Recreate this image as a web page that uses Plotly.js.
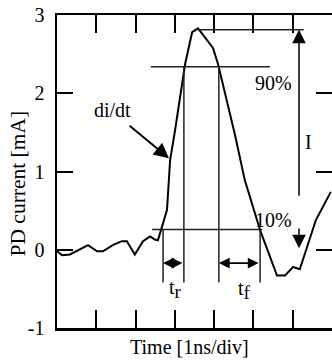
<!DOCTYPE html>
<html>
<head>
<meta charset="utf-8">
<script src="https://cdn.plot.ly/plotly-3.0.1.min.js"></script>
<style>html,body{margin:0;padding:0;background:#fff;}#chart{width:332px;height:361px;}</style>
</head>
<body>
<div id="chart"></div>
<script>
// Time in divisions (1 ns/div), PD current in mA
const timeDiv = [0, 0.13, 0.33, 0.79, 1.02, 1.17, 1.42, 1.65, 1.78, 1.98, 2.19, 2.37, 2.49, 2.57, 2.70, 2.80, 2.88, 3.00, 3.26, 3.44, 3.59, 3.97, 4.10, 4.53, 4.78, 5.17, 5.60, 5.80, 6.01, 6.18, 6.59, 6.97];
const currentMA = [-0.02, -0.07, -0.06, 0.06, -0.02, -0.02, 0.06, 0.11, 0.11, -0.06, 0.11, 0.17, 0.13, 0.12, 0.34, 0.51, 1.15, 1.51, 2.37, 2.78, 2.83, 2.58, 2.37, 1.47, 0.89, 0.25, -0.33, -0.33, -0.22, -0.25, 0.38, 0.74];

const yTickVals = [-1, 0, 1, 2, 3];
const yTickText = ["-1", "0", "1", "2", "3"];

// Levels and markers
const levelPeak = 2.81, level90 = 2.34, level10 = 0.26;
const line90 = [2.39, 5.42], line10 = [2.42, 5.22], linePeak = [3.59, 6.28];
const trEdges = [2.70, 3.23], tfEdges = [4.12, 5.17];
const markBottom = -0.42, dblArrowY = -0.17;
const iArrowX = 6.16, iUpTail = 0.67, iDownTail = 0.29, iDownTip = 0.02;
const didtTip = [2.85, 1.17], didtTail = [1.81, 1.60];

const FONT = "Liberation Serif, Times New Roman, serif";
const lineCol = "#222";

const shapes = [];
function seg(x0, y0, x1, y1) {
  shapes.push({type: "line", xref: "x", yref: "y", x0: x0, y0: y0, x1: x1, y1: y1,
    line: {color: lineCol, width: 1.5}});
}
seg(line90[0], level90, line90[1], level90);
seg(line10[0], level10, line10[1], level10);
seg(linePeak[0], levelPeak, linePeak[1], levelPeak);
seg(trEdges[0], level10, trEdges[0], markBottom);
seg(trEdges[1], level90, trEdges[1], markBottom);
seg(tfEdges[0], level90, tfEdges[0], markBottom);
seg(tfEdges[1], level10, tfEdges[1], markBottom);

function arrow(xt, yt, xa, ya, opts) {
  return Object.assign({x: xt, y: yt, ax: xa, ay: ya, xref: "x", yref: "y", axref: "x", ayref: "y",
    text: "", showarrow: true, arrowhead: 2, arrowsize: 2.2, arrowwidth: 1.5, arrowcolor: "#000",
    standoff: 0, startstandoff: 0}, opts || {});
}
function label(x, y, t, size) {
  return {x: x, y: y, xref: "x", yref: "y", text: t, showarrow: false,
    font: {family: FONT, size: size || 20, color: "#000"}};
}

const annotations = [
  arrow(iArrowX, levelPeak, iArrowX, iUpTail, {arrowsize: 1.8}),
  arrow(iArrowX, iDownTip, iArrowX, iDownTail, {arrowsize: 1.8}),
  arrow(didtTip[0], didtTip[1], didtTail[0], didtTail[1], {arrowsize: 1.5, arrowwidth: 2}),
  arrow(trEdges[0], dblArrowY, trEdges[1], dblArrowY, {arrowside: "end+start", startarrowhead: 2, arrowsize: 1.2, startarrowsize: 1.2, arrowwidth: 1.8}),
  arrow(tfEdges[0], dblArrowY, tfEdges[1], dblArrowY, {arrowside: "end+start", startarrowhead: 2, arrowsize: 1.2, startarrowsize: 1.2, arrowwidth: 1.8}),
  label(1.42, 1.79, "di/dt"),
  label(5.50, 2.13, "90%"),
  label(5.52, 0.38, "10%"),
  label(6.41, 1.38, "I"),
  label(3.02, -0.50, "t<sub><span style='font-size:19px'>r</span></sub>"),
  label(4.76, -0.51, "t<sub><span style='font-size:19px'>f</span></sub>"),
  {xref: "paper", yref: "paper", x: 0.4836, y: -0.0607, xanchor: "center", yanchor: "middle",
   text: "Time [1ns/div]", showarrow: false, font: {family: FONT, size: 20, color: "#000"}},
  {xref: "paper", yref: "paper", x: -0.1418, y: 0.4617, xanchor: "center", yanchor: "middle", textangle: -90,
   text: "PD current [mA]", showarrow: false, font: {family: FONT, size: 21.5, color: "#000"}}
];

const data = [
  {x: timeDiv, y: currentMA, type: "scatter", mode: "lines",
   line: {color: "#000", width: 2}, hoverinfo: "none", showlegend: false},
  {x: [0], y: [0], yaxis: "y2", type: "scatter", mode: "none", hoverinfo: "none", showlegend: false}
];

const layout = {
  width: 332, height: 361,
  margin: {l: 57, r: 0, t: 15, b: 33},
  paper_bgcolor: "#fff", plot_bgcolor: "#fff",
  font: {family: FONT, size: 20, color: "#000"},
  showlegend: false,
  xaxis: {range: [0, 7], dtick: 1, tick0: 0, ticks: "inside", ticklen: 18, tickwidth: 2, tickcolor: "#000",
    showticklabels: false, showgrid: false, zeroline: false, showline: true, linewidth: 2.5, linecolor: "#000",
    mirror: "ticks"},
  yaxis: {range: [-1, 3], tickvals: yTickVals, ticktext: yTickText, ticks: "inside", ticklen: 16, tickwidth: 2,
    tickcolor: "#000", showgrid: false, zeroline: false, showline: true, linewidth: 2.5, linecolor: "#000",
    tickfont: {family: FONT, size: 20}, ticklabelstandoff: 6},
  yaxis2: {overlaying: "y", side: "right", matches: "y", range: [-1, 3], tickvals: yTickVals, ticks: "inside",
    ticklen: 16, tickwidth: 2, tickcolor: "#000", showticklabels: false, showgrid: false, zeroline: false, showline: false},
  shapes: shapes,
  annotations: annotations
};

Plotly.newPlot("chart", data, layout, {staticPlot: true, displayModeBar: false});
</script>
</body>
</html>
